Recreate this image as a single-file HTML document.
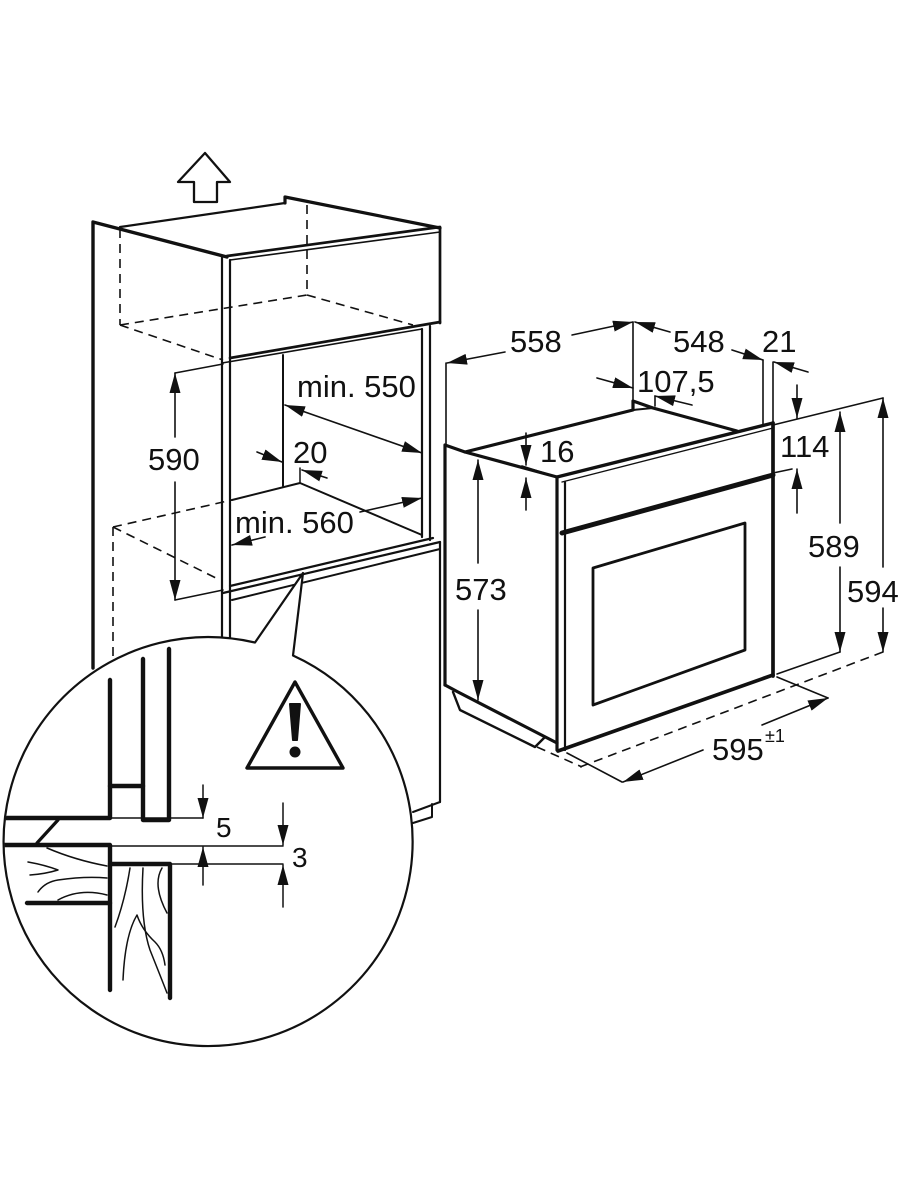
<!DOCTYPE html>
<html><head><meta charset="utf-8"><style>
html,body{margin:0;padding:0;background:#fff;}
svg{display:block;}
text{font-family:"Liberation Sans",Arial,sans-serif;fill:#111;}
</style></head><body>
<svg width="900" height="1200" viewBox="0 0 900 1200" xmlns="http://www.w3.org/2000/svg">
<defs>
<marker id="ah" markerUnits="userSpaceOnUse" markerWidth="20" markerHeight="12" refX="20" refY="6" orient="auto"><path d="M0,0.5 L20,6 L0,11.5 z" fill="#111"/></marker>
<marker id="as" markerUnits="userSpaceOnUse" markerWidth="20" markerHeight="12" refX="0" refY="6" orient="auto"><path d="M20,0.5 L0,6 L20,11.5 z" fill="#111"/></marker>
<clipPath id="cc"><circle cx="208" cy="841.5" r="203.5"/></clipPath>
</defs>
<g fill="none" stroke="#111" stroke-linecap="round" stroke-linejoin="round">
<!-- top arrow -->
<polygon points="205,153 230,182 217,182 217,202 194,202 194,182 178,182" stroke-width="2.3" fill="#fff"/>
<!-- left cabinet -->
<polyline points="93,668 93,222 227,257" stroke-width="3.4"/>
<line x1="120" y1="227" x2="285" y2="203" stroke-width="2.2"/>
<polyline points="285,203 285,197 440,228" stroke-width="3.2"/>
<line x1="227" y1="256" x2="440" y2="227" stroke-width="2.7"/>
<line x1="230" y1="260" x2="440" y2="232" stroke-width="1.6"/>
<line x1="440" y1="228" x2="440" y2="323" stroke-width="2.7"/>
<line x1="222" y1="257" x2="222" y2="640" stroke-width="2.2"/>
<line x1="230" y1="260" x2="230" y2="640" stroke-width="2.2"/>
<line x1="230" y1="358" x2="440" y2="322" stroke-width="2.7"/>
<line x1="222" y1="363" x2="422" y2="329" stroke-width="1.6"/>
<line x1="422" y1="329" x2="422" y2="537" stroke-width="2.2"/>
<line x1="430" y1="326" x2="430" y2="540" stroke-width="2.2"/>
<line x1="283" y1="355" x2="283" y2="486" stroke-width="2"/>
<polyline points="232,500 300,483 422,535" stroke-width="2"/>
<line x1="300" y1="468" x2="300" y2="483" stroke-width="1.5"/>
<line x1="230" y1="586" x2="433" y2="538" stroke-width="2.2"/>
<line x1="223" y1="593" x2="440" y2="542" stroke-width="2.2"/>
<line x1="232" y1="600" x2="440" y2="549" stroke-width="2"/>
<line x1="440" y1="542" x2="440" y2="802" stroke-width="2.2"/>
<polyline points="440,802 413,812" stroke-width="2"/>
<polyline points="432,804 432,817 413,823" stroke-width="2"/>
<!-- dashed -->
<g stroke-width="1.6" stroke-dasharray="9,6" stroke-linecap="butt">
<line x1="120" y1="229" x2="120" y2="325"/>
<line x1="307" y1="205" x2="307" y2="295"/>
<line x1="120" y1="325" x2="307" y2="295"/>
<line x1="307" y1="295" x2="413" y2="325"/>
<line x1="120" y1="325" x2="223" y2="360"/>
<line x1="113" y1="527" x2="232" y2="500"/>
<line x1="113" y1="527" x2="220" y2="580"/>
<line x1="113" y1="527" x2="113" y2="665"/>
<line x1="580" y1="767" x2="883" y2="652"/>
<line x1="537" y1="747" x2="582" y2="767"/>
</g>
<!-- left cabinet dimensions -->
<g stroke-width="1.6">
<line x1="175" y1="373" x2="223" y2="364"/>
<line x1="175" y1="600" x2="223" y2="590"/>
<line x1="175" y1="437" x2="175" y2="373" marker-end="url(#ah)"/>
<line x1="175" y1="482" x2="175" y2="600" marker-end="url(#ah)"/>
<line x1="285" y1="405" x2="422" y2="453" marker-start="url(#as)" marker-end="url(#ah)"/>
<line x1="257" y1="452" x2="282" y2="462" marker-end="url(#ah)"/>
<line x1="327" y1="478" x2="302" y2="470" marker-end="url(#ah)"/>
<line x1="265" y1="537" x2="232" y2="545" marker-end="url(#ah)"/>
<line x1="360" y1="512" x2="422" y2="498" marker-end="url(#ah)"/>
</g>
<!-- oven body -->
<polyline points="445,685 445,445 465,452 557,477" stroke-width="3.2"/>
<polyline points="445,685 458,692 557,743" stroke-width="3.2"/>
<polyline points="453,692 460,710 535,747 545,737" stroke-width="2.4"/>
<polyline points="465,452 633,410 633,401 653,408 737,431" stroke-width="3.2"/>
<line x1="653" y1="408" x2="633" y2="410" stroke-width="2"/>
<line x1="557" y1="477" x2="773" y2="423" stroke-width="3.4"/>
<line x1="562" y1="482" x2="773" y2="428" stroke-width="1.4"/>
<line x1="557" y1="477" x2="557" y2="750" stroke-width="3.2"/>
<line x1="565" y1="482" x2="565" y2="750" stroke-width="2.2"/>
<line x1="562" y1="533" x2="773" y2="475" stroke-width="5"/>
<line x1="773" y1="423" x2="773" y2="676" stroke-width="3.7"/>
<line x1="558" y1="751" x2="773" y2="675" stroke-width="3.7"/>
<polygon points="593,568 745,523 745,650 593,705" stroke-width="2.8"/>
<!-- oven dimensions -->
<g stroke-width="1.6">
<line x1="446" y1="363" x2="446" y2="445"/>
<line x1="633" y1="322" x2="633" y2="401"/>
<line x1="763" y1="360" x2="763" y2="425"/>
<line x1="773" y1="362" x2="773" y2="423"/>
<line x1="655" y1="396" x2="655" y2="406"/>
<line x1="773" y1="425" x2="883" y2="398"/>
<line x1="773" y1="473" x2="792" y2="469"/>
<line x1="522" y1="466" x2="557" y2="477"/>
<line x1="777" y1="674" x2="840" y2="652"/>
<line x1="777" y1="677" x2="828" y2="698"/>
<line x1="567" y1="753" x2="622" y2="782"/>
<line x1="572" y1="335" x2="633" y2="322" marker-end="url(#ah)"/>
<line x1="505" y1="352" x2="447" y2="363" marker-end="url(#ah)"/>
<line x1="670" y1="332" x2="635" y2="322" marker-end="url(#ah)"/>
<line x1="732" y1="350" x2="763" y2="360" marker-end="url(#ah)"/>
<line x1="808" y1="372" x2="774" y2="362" marker-end="url(#ah)"/>
<line x1="597" y1="378" x2="633" y2="388" marker-end="url(#ah)"/>
<line x1="692" y1="405" x2="655" y2="396" marker-end="url(#ah)"/>
<line x1="797" y1="385" x2="797" y2="418" marker-end="url(#ah)"/>
<line x1="797" y1="513" x2="797" y2="469" marker-end="url(#ah)"/>
<line x1="526" y1="433" x2="526" y2="465" marker-end="url(#ah)"/>
<line x1="526" y1="510" x2="526" y2="478" marker-end="url(#ah)"/>
<line x1="478" y1="563" x2="478" y2="460" marker-end="url(#ah)"/>
<line x1="478" y1="610" x2="478" y2="700" marker-end="url(#ah)"/>
<line x1="840" y1="523" x2="840" y2="412" marker-end="url(#ah)"/>
<line x1="840" y1="567" x2="840" y2="652" marker-end="url(#ah)"/>
<line x1="883" y1="567" x2="883" y2="398" marker-end="url(#ah)"/>
<line x1="883" y1="608" x2="883" y2="652" marker-end="url(#ah)"/>
<line x1="762" y1="725" x2="828" y2="698" marker-end="url(#ah)"/>
<line x1="703" y1="750" x2="623" y2="782" marker-end="url(#ah)"/>
</g>
<!-- detail circle -->
<path d="M293,655.5 A204.5,204.5 0 1 1 255,642.5 L303,573 Z" fill="#fff" stroke-width="2.2"/>
<g clip-path="url(#cc)">
<g stroke-width="4.4">
<polyline points="0,818 110,818 110,680"/>
<line x1="110" y1="786" x2="143" y2="786"/>
<polyline points="143,659 143,820 169,820 169,649"/>
<polyline points="0,845 110,845 110,990"/>
<line x1="27" y1="903" x2="110" y2="903"/>
<polyline points="110,864 170,864 170,998"/>
</g>
<line x1="58" y1="820" x2="37" y2="843" stroke-width="3.2"/>
<g stroke-width="1.5">
<line x1="110" y1="818" x2="203" y2="818"/>
<line x1="110" y1="846" x2="283" y2="846"/>
<line x1="170" y1="864" x2="283" y2="864"/>
<path d="M47,848 Q75,860 107,866"/>
<path d="M28,862 Q45,865 58,870 Q45,874 30,875"/>
<path d="M38,892 Q45,882 58,880 Q85,876 107,878"/>
<path d="M58,900 Q80,888 107,895"/>
<path d="M115,927 Q125,900 130,868"/>
<path d="M143,868 Q140,920 150,950 Q160,975 167,993"/>
<path d="M162,868 Q152,885 167,913"/>
<path d="M123,980 Q125,935 137,915 Q142,930 155,942 Q163,950 165,965"/>
<line x1="203" y1="785" x2="203" y2="818" marker-end="url(#ah)"/>
<line x1="203" y1="885" x2="203" y2="847" marker-end="url(#ah)"/>
<line x1="283" y1="803" x2="283" y2="845" marker-end="url(#ah)"/>
<line x1="283" y1="907" x2="283" y2="865" marker-end="url(#ah)"/>
</g>
</g>
<!-- warning triangle -->
<polygon points="295,682 247,768 343,768" stroke-width="3.4"/>
<polygon points="290,704 300,704 297,740 293,740" fill="#111" stroke-width="2"/>
<circle cx="295" cy="752" r="5.5" fill="#111" stroke="none"/>
</g>
<!-- labels -->
<g font-size="31">
<text x="148" y="470">590</text>
<text x="297" y="397">min. 550</text>
<text x="293" y="463">20</text>
<text x="235" y="533">min. 560</text>
<text x="510" y="352">558</text>
<text x="673" y="352">548</text>
<text x="762" y="352">21</text>
<text x="637" y="392">107,5</text>
<text x="540" y="462">16</text>
<text x="780" y="457">114</text>
<text x="808" y="557">589</text>
<text x="847" y="602">594</text>
<text x="455" y="600">573</text>
<text x="712" y="760">595</text>
</g>
<text x="765" y="742" font-size="18">±1</text>
<text x="216" y="837" font-size="28">5</text>
<text x="292" y="867" font-size="28">3</text>
</svg>
</body></html>
